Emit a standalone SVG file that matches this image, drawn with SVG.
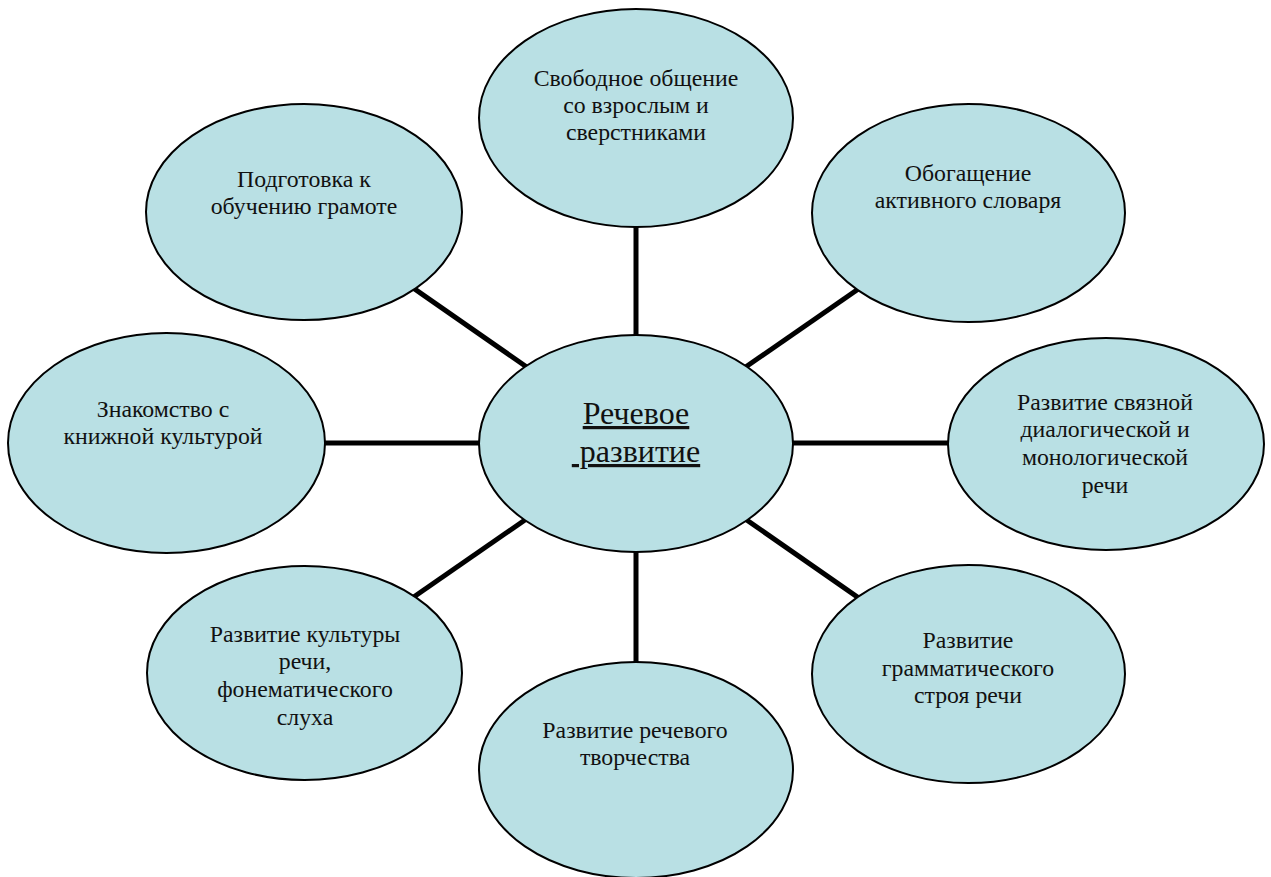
<svg xmlns="http://www.w3.org/2000/svg" width="1271" height="877" viewBox="0 0 1271 877">
<style>
.n{fill:#B9E0E4;stroke:#000;stroke-width:2}
.t{font-family:'Liberation Serif','DejaVu Serif',serif;font-size:23.8px;fill:#111;text-anchor:middle}
.c{font-family:'Liberation Serif','DejaVu Serif',serif;font-size:32px;fill:#111;text-anchor:middle;text-decoration:underline}
.e{stroke:#000;stroke-width:5;fill:none}
</style>
<rect width="1271" height="877" fill="#fff"/>
<g id="connectors">
<line class="e" x1="636" y1="443" x2="636" y2="118"/>
<line class="e" x1="636" y1="443" x2="968" y2="213"/>
<line class="e" x1="636" y1="443" x2="1106" y2="443"/>
<line class="e" x1="636" y1="443" x2="968" y2="674"/>
<line class="e" x1="636" y1="443" x2="636" y2="770"/>
<line class="e" x1="636" y1="443" x2="304" y2="673"/>
<line class="e" x1="636" y1="443" x2="166" y2="443"/>
<line class="e" x1="636" y1="443" x2="304" y2="212"/>
</g>
<g id="center">
<ellipse class="n" cx="636" cy="443.5" rx="157" ry="108.5"/>
<text class="c" x="636" y="424">Речевое</text>
<text class="c" x="636" y="462" xml:space="preserve"> развитие</text>
</g>
<g id="n-top">
<ellipse class="n" cx="636" cy="118" rx="157" ry="109"/>
<text class="t" x="636" y="86">Свободное общение</text>
<text class="t" x="636" y="113">со взрослым и</text>
<text class="t" x="636" y="140">сверстниками</text>
</g>
<g id="n-topright">
<ellipse class="n" cx="968.5" cy="213" rx="156.5" ry="109"/>
<text class="t" x="968" y="181">Обогащение</text>
<text class="t" x="968" y="208">активного словаря</text>
</g>
<g id="n-right">
<ellipse class="n" cx="1106" cy="444" rx="158" ry="106"/>
<text class="t" x="1105" y="410">Развитие связной</text>
<text class="t" x="1105" y="437">диалогической и</text>
<text class="t" x="1105" y="465">монологической</text>
<text class="t" x="1105" y="493">речи</text>
</g>
<g id="n-bottomright">
<ellipse class="n" cx="968.5" cy="674" rx="156.5" ry="109"/>
<text class="t" x="968" y="648">Развитие</text>
<text class="t" x="968" y="676">грамматического</text>
<text class="t" x="968" y="703">строя речи</text>
</g>
<g id="n-bottom">
<ellipse class="n" cx="636" cy="770" rx="157" ry="108"/>
<text class="t" x="635" y="738">Развитие речевого</text>
<text class="t" x="635" y="765">творчества</text>
</g>
<g id="n-bottomleft">
<ellipse class="n" cx="304.5" cy="673" rx="157.5" ry="107"/>
<text class="t" x="305" y="642">Развитие культуры</text>
<text class="t" x="305" y="669">речи,</text>
<text class="t" x="305" y="697">фонематического</text>
<text class="t" x="305" y="725">слуха</text>
</g>
<g id="n-left">
<ellipse class="n" cx="166.5" cy="443" rx="158.5" ry="110"/>
<text class="t" x="163" y="417">Знакомство с</text>
<text class="t" x="163" y="444">книжной культурой</text>
</g>
<g id="n-topleft">
<ellipse class="n" cx="304" cy="212" rx="158" ry="108"/>
<text class="t" x="304" y="187">Подготовка к</text>
<text class="t" x="304" y="214">обучению грамоте</text>
</g>
</svg>
